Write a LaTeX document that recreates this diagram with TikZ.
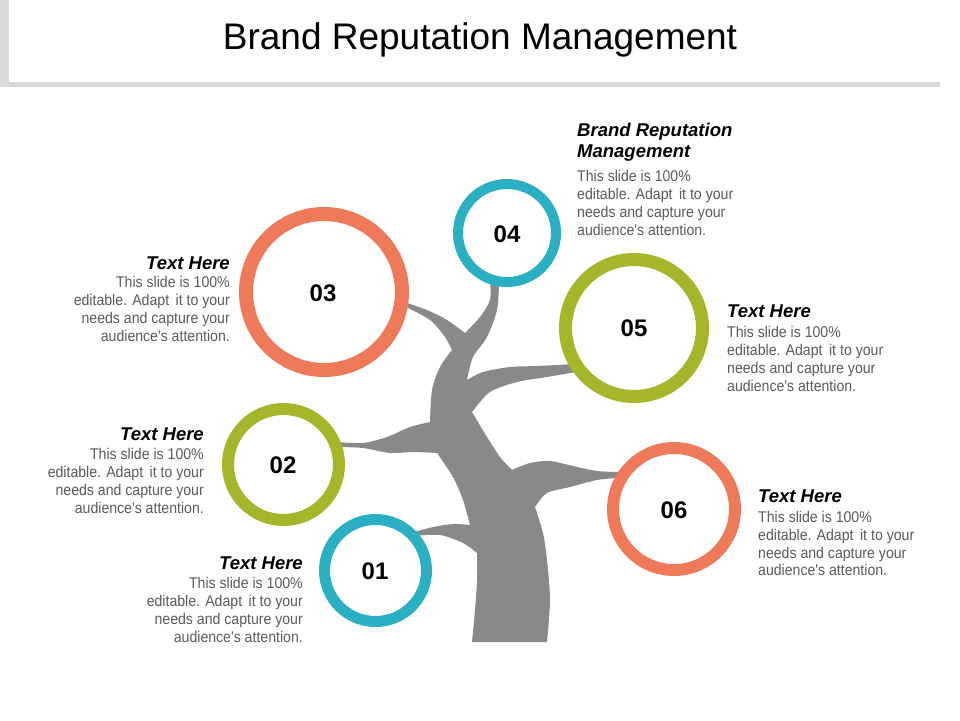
\documentclass[tikz,border=0pt]{standalone}
\usepackage{fontspec}
\setmainfont{Liberation Sans}
\newfontfamily\bodyfont[FakeStretch=0.91]{Liberation Sans}
\definecolor{ringorange}{HTML}{EF7A5A}
\definecolor{ringteal}{HTML}{2BAFC3}
\definecolor{ringolive}{HTML}{A7B52B}
\definecolor{treegray}{HTML}{898989}
\definecolor{headgray}{HTML}{D9D9D9}
\definecolor{bodygray}{HTML}{5A5A5A}
\tikzset{
  ring/.style={draw=#1, fill=white},
  numlabel/.style={font=\fontsize{24}{28}\selectfont\bfseries, text=black, inner sep=0pt},
  headL/.style={font=\fontsize{18.5}{22}\selectfont\bfseries\itshape, text=black, inner sep=0pt, anchor=base west},
  headR/.style={font=\fontsize{18.5}{22}\selectfont\bfseries\itshape, text=black, inner sep=0pt, anchor=base east},
  bodyL/.style={font=\bodyfont\fontsize{15.5}{17.9}\selectfont, text=bodygray, inner sep=0pt, align=left, anchor=north west},
  bodyR/.style={font=\bodyfont\fontsize{15.5}{17.9}\selectfont, text=bodygray, inner sep=0pt, align=right, anchor=north east},
}
\newcommand{\firstline}{\rule{0pt}{12pt}}
\begin{document}
\begin{tikzpicture}[x=1pt,y=-1pt]
\useasboundingbox (0,0) rectangle (960,720);
\fill[white] (0,0) rectangle (960,720);
% header
\fill[headgray] (0,0) rectangle (9,87);
\fill[headgray] (0,82) rectangle (940,87);
\node[font=\fontsize{37}{42}\selectfont, text=black, inner sep=0pt, anchor=base] (title) at (480,49.5) {Brand Reputation Management};
% tree
\fill[treegray] (472,642) -- (547,642)
 -- plot[smooth] coordinates {(547,642) (550,600) (547,560) (543,533) (535,507)}
 -- plot[smooth] coordinates {(535,507) (547,493) (570,487) (597,480) (617,478)}
 -- (620,472)
 -- plot[smooth] coordinates {(620,472) (597,471) (573,466) (550,461) (530,463) (512,470)}
 -- plot[smooth] coordinates {(512,470) (500,457) (487,437) (472,412)}
 -- plot[smooth] coordinates {(472,412) (490,392) (517,382) (547,377) (576,372)}
 -- (576,364)
 -- plot[smooth] coordinates {(576,364) (537,366) (510,367) (483,372) (467,380)}
 -- plot[smooth] coordinates {(467,380) (473,357) (487,337) (497,310) (499,282)}
 -- (490,282)
 -- plot[smooth] coordinates {(490,282) (490,300) (480,317) (465,333)}
 -- plot[smooth] coordinates {(465,333) (447,320) (427,310) (404,302)}
 -- (404,306)
 -- plot[smooth] coordinates {(404,306) (430,320) (445,337) (452,350)}
 -- plot[smooth] coordinates {(452,350) (440,367) (432,390) (430,422)}
 -- plot[smooth] coordinates {(430,422) (410,427) (387,437) (363,443) (338,442)}
 -- (338,447)
 -- plot[smooth] coordinates {(338,447) (363,448) (390,453) (413,452) (437,453)}
 -- plot[smooth] coordinates {(437,453) (453,477) (463,500) (470,525)}
 -- plot[smooth] coordinates {(470,525) (453,524) (433,527) (414,532)}
 -- (414,536)
 -- plot[smooth] coordinates {(414,536) (440,535) (463,543) (477,553)}
 -- plot[smooth] coordinates {(477,553) (477,580) (475,610) (472,642)}
 -- cycle;
% rings
\draw[ring=ringorange, line width=14pt] (324,292) circle[radius=78];
\draw[ring=ringteal, line width=10pt] (507,233) circle[radius=49];
\draw[ring=ringolive, line width=13pt] (634,328) circle[radius=68.5];
\draw[ring=ringolive, line width=12pt] (283.5,464.5) circle[radius=55.5];
\draw[ring=ringteal, line width=11pt] (375.5,570.5) circle[radius=51];
\draw[ring=ringorange, line width=12pt] (674,509) circle[radius=61];
% numbers
\node[numlabel] (n03) at (323,293) {03};
\node[numlabel] (n04) at (507,234) {04};
\node[numlabel] (n05) at (634,328) {05};
\node[numlabel] (n02) at (283,465) {02};
\node[numlabel] (n01) at (375,571) {01};
\node[numlabel] (n06) at (674,510) {06};
% text blocks
\node[headL] (h4a) at (577,136) {Brand Reputation};
\node[headL] (h4b) at (577,157) {Management};
\node[bodyL] (b4) at (577,169.5) {\firstline This slide is 100\%\\editable. Adapt\, it to your\\needs and capture your\\audience's attention.};
\node[headR] (h3) at (230,269) {Text Here};
\node[bodyR] (b3) at (230,275.5) {\firstline This slide is 100\%\\editable. Adapt\, it to your\\needs and capture your\\audience's attention.};
\node[headL] (h5) at (727,317.5) {Text Here};
\node[bodyL] (b5) at (727,325.5) {\firstline This slide is 100\%\\editable. Adapt\, it to your\\needs and capture your\\audience's attention.};
\node[headR] (h2) at (204,440.5) {Text Here};
\node[bodyR] (b2) at (204,447.5) {\firstline This slide is 100\%\\editable. Adapt\, it to your\\needs and capture your\\audience's attention.};
\node[headL] (h6) at (758,502.5) {Text Here};
\node[bodyL] (b6) at (758,510) {\firstline This slide is 100\%\\editable. Adapt\, it to your\\needs and capture your\\audience's attention.};
\node[headR] (h1) at (303,569.5) {Text Here};
\node[bodyR] (b1) at (303,576.5) {\firstline This slide is 100\%\\editable. Adapt\, it to your\\needs and capture your\\audience's attention.};
\end{tikzpicture}
\end{document}
